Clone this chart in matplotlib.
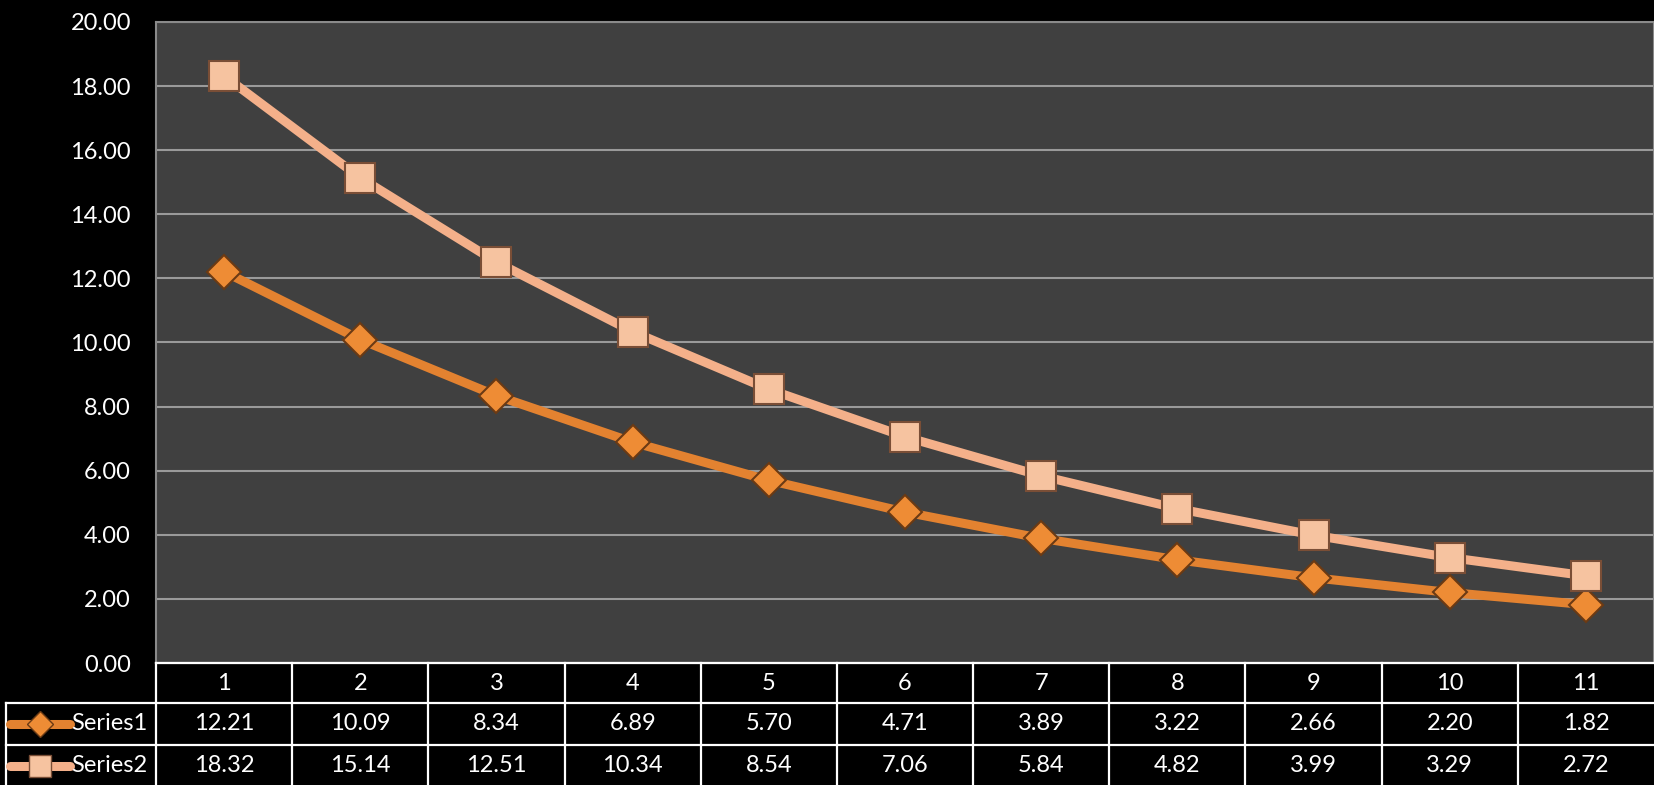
import numpy as np
import matplotlib.pyplot as plt

# Data
categories = [1, 2, 3, 4, 5, 6, 7, 8, 9, 10, 11]
series1 = [12.21, 10.09, 8.34, 6.89, 5.70, 4.71, 3.89, 3.22, 2.66, 2.20, 1.82]
series2 = [18.32, 15.14, 12.51, 10.34, 8.54, 7.06, 5.84, 4.82, 3.99, 3.29, 2.72]
names = ['Series1', 'Series2']
yticks = np.arange(0, 21, 2)

plt.rcParams['font.family'] = ['Lato', 'DejaVu Sans']
FS = 17

W, H = 1654, 785
fig = plt.figure(figsize=(W / 100, H / 100), dpi=100, facecolor='black')

c1, e1 = '#E38230', '#6B3A14'
c2, e2 = '#F4B08A', '#7A4E36'
styles = [dict(color=c1, marker='D', mfc='#EE8C35', mec=e1, ms=17),
          dict(color=c2, marker='s', mfc='#F6C3A0', mec=e2, ms=21)]

# Main plot area
ax = fig.add_axes([156 / W, 1 - 663 / H, 1 - 156 / W, 641 / H])
ax.set_facecolor('#404040')
ax.set_xlim(0.5, 11.5)
ax.set_ylim(0, 20)
ax.set_yticks(yticks)
ax.set_yticklabels([f'{v:.2f}' for v in yticks], color='white', fontsize=FS)
ax.set_xticks([])
ax.tick_params(axis='y', length=0, pad=18)
ax.grid(axis='y', color='#9A9A9A', lw=1.5)
ax.set_axisbelow(True)
for s in ax.spines.values():
    s.set_color('#8A8A8A')
    s.set_linewidth(1.5)

for vals, st in zip([series1, series2], styles):
    ax.plot(categories, vals, lw=6.5, color=st['color'], marker=st['marker'],
            ms=st['ms'], mfc=st['mfc'], mec=st['mec'], mew=1.5,
            solid_capstyle='round', zorder=3)

# Data table under the plot
tab = fig.add_axes([156 / W, -2 / H, 1 - 156 / W, 124 / H])
tab.set_xlim(0.5, 11.5)
tab.set_ylim(124, 0)
tab.axis('off')
lc = dict(color='white', lw=1.6, clip_on=False)
left = -0.6
tab.plot([0.5, 11.5], [0, 0], **lc)
for yy in [40, 82, 124]:
    tab.plot([left, 11.5], [yy, yy], **lc)
tab.plot([left, left], [40, 124], **lc)
for i in range(11):
    tab.plot([0.5 + i, 0.5 + i], [0, 124], **lc)

for x in categories:
    tab.text(x, 21, str(x), color='white', fontsize=FS, ha='center', va='center')
for r, (vals, name, st) in enumerate(zip([series1, series2], names, styles)):
    yc = 61 + 42 * r
    for x, v in zip(categories, vals):
        tab.text(x, yc, f'{v:.2f}', color='white', fontsize=FS, ha='center', va='center')
    tab.plot([-0.572, -0.131], [yc, yc], color=st['color'], lw=6.5,
             solid_capstyle='round', clip_on=False)
    tab.plot([-0.35], [yc], marker=st['marker'], ms=st['ms'] * 0.75, mfc=st['mfc'],
             mec=st['mec'], mew=1, clip_on=False)
    tab.text(-0.125, yc, name, color='white', fontsize=FS, ha='left', va='center')

fig.savefig('out.png', dpi=100, facecolor='black')
